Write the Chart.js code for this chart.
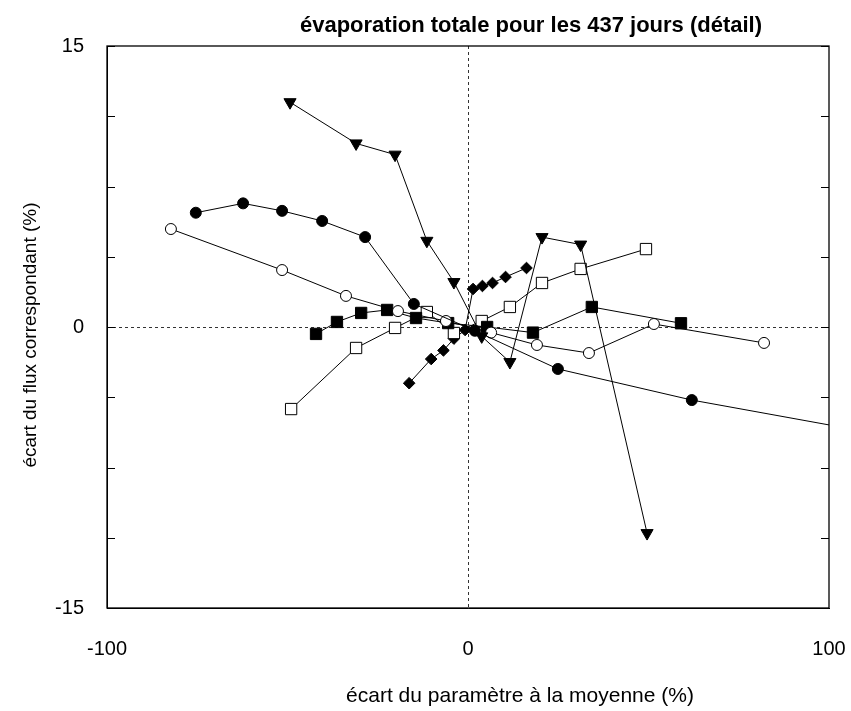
<!DOCTYPE html>
<html>
<head>
<meta charset="utf-8">
<script src="https://cdn.jsdelivr.net/npm/chart.js@4.4.1/dist/chart.umd.min.js"></script>
<style>
  html, body { margin: 0; padding: 0; background: #fff; }
  #wrap { width: 851px; height: 711px; }
</style>
</head>
<body>
<div id="wrap"><canvas id="chart" width="851" height="711"></canvas></div>
<script>
// down triangles
const triX = [-49.3, -31.0, -20.2, -11.4, -3.9, 3.8, 11.6, 20.5, 31.2, 49.6];
const triY = [12.0, 9.8, 9.2, 4.6, 2.4, -0.5, -1.87, 4.8, 4.4, -11.0];
// filled circles (last point lies beyond the x range)
const dotX = [-75.4, -62.3, -51.5, -40.4, -28.5, -15.0, 1.9, 24.9, 62.0, 125];
const dotY = [6.1, 6.6, 6.2, 5.66, 4.8, 1.23, -0.2, -2.24, -3.9, -6.1];
// open circles
const ringX = [-82.3, -51.5, -33.8, -19.4, -6.1, 6.4, 19.1, 33.5, 51.5, 82.0];
const ringY = [5.23, 3.04, 1.66, 0.85, 0.32, -0.3, -0.96, -1.39, 0.16, -0.85];
// filled squares
const sqX = [-42.1, -36.3, -29.6, -22.4, -14.4, -5.5, 5.3, 18.0, 34.3, 59.0];
const sqY = [-0.37, 0.27, 0.75, 0.91, 0.48, 0.21, 0.0, -0.3, 1.07, 0.2];
// open squares
const boxX = [-49.0, -31.0, -20.2, -11.4, -3.9, 3.8, 11.6, 20.5, 31.2, 49.3];
const boxY = [-4.38, -1.12, -0.05, 0.8, -0.32, 0.32, 1.07, 2.35, 3.1, 4.16];
// diamonds
const diaX = [-16.3, -10.2, -6.8, -3.9, -0.8, 1.4, 4.0, 6.8, 10.4, 16.2];
const diaY = [-3.0, -1.71, -1.25, -0.62, -0.16, 2.03, 2.19, 2.35, 2.67, 3.15];

const yTicks = [-15, -11.25, -7.5, -3.75, 0, 3.75, 7.5, 11.25, 15];

const FONT = "'Liberation Sans', Arial, sans-serif";

const pts = (xs, ys) => xs.map((x, i) => ({ x, y: ys[i] }));

const series = (data, style, fill, radius, rotation) => ({
    data,
    showLine: true,
    borderColor: '#000',
    borderWidth: 1,
    pointStyle: style,
    pointRadius: radius,
    pointRotation: rotation || 0,
    pointBackgroundColor: fill,
    pointBorderColor: '#000',
    pointBorderWidth: 1,
});

// the titles in the original sit right of the plot centre
const shiftScaleTitle = (scale, dx, dy) => {
    if (scale._shifted) return;
    scale._shifted = true;
    const draw = scale.drawTitle;
    scale.drawTitle = function () {
        const { left, right, top, bottom } = this;
        this.left += dx; this.right += dx;
        this.top += dy; this.bottom += dy;
        draw.call(this);
        Object.assign(this, { left, right, top, bottom });
    };
};

const titlePlugin = {
    id: 'titleShift',
    afterLayout(chart) {
        const t = chart.titleBlock;
        if (t) {
            const dx = 531 - (t.left + t.right) / 2;
            t.left += dx;
            t.right += dx;
        }
        shiftScaleTitle(chart.scales.x, 52, 0);
        shiftScaleTitle(chart.scales.y, 0, 8);
    }
};

// frame, inward ticks and dotted zero lines
const framePlugin = {
    id: 'frame',
    beforeDatasetsDraw(chart) {
        const { ctx, chartArea: a, scales } = chart;
        const x0 = scales.x.getPixelForValue(0);
        const y0 = scales.y.getPixelForValue(0);
        ctx.save();
        ctx.strokeStyle = '#333';
        ctx.lineWidth = 1;
        ctx.setLineDash([3, 3]);
        ctx.beginPath();
        ctx.moveTo(Math.round(x0) + 0.5, a.top);
        ctx.lineTo(Math.round(x0) + 0.5, a.bottom);
        ctx.moveTo(a.left, Math.round(y0) + 0.5);
        ctx.lineTo(a.right, Math.round(y0) + 0.5);
        ctx.stroke();
        ctx.restore();
    },
    afterDraw(chart) {
        const { ctx, chartArea: a, scales } = chart;
        ctx.save();
        ctx.strokeStyle = '#000';
        ctx.lineWidth = 1;
        ctx.beginPath();
        yTicks.forEach(v => {
            const py = Math.round(scales.y.getPixelForValue(v)) + 0.5;
            ctx.moveTo(a.left, py);
            ctx.lineTo(a.left + 8, py);
            ctx.moveTo(a.right - 8, py);
            ctx.lineTo(a.right, py);
        });
        ctx.stroke();
        ctx.lineWidth = 1.3;
        ctx.strokeRect(a.left, a.top, a.right - a.left, a.bottom - a.top);
        ctx.restore();
    }
};

const ctx = document.getElementById('chart').getContext('2d');
new Chart(ctx, {
    type: 'scatter',
    plugins: [titlePlugin, framePlugin],
    data: {
        datasets: [
            series(pts(triX, triY), 'triangle', '#000', 7, 180),
            series(pts(dotX, dotY), 'circle', '#000', 5.5),
            series(pts(ringX, ringY), 'circle', '#fff', 5.5),
            series(pts(sqX, sqY), 'rect', '#000', 8),
            series(pts(boxX, boxY), 'rect', '#fff', 8),
            series(pts(diaX, diaY), 'rectRot', '#000', 5.8),
        ]
    },
    options: {
        responsive: false,
        animation: false,
        devicePixelRatio: 1,
        layout: { padding: { left: 0, right: 22, top: 0, bottom: 0 } },
        plugins: {
            legend: { display: false },
            tooltip: { enabled: false },
            title: {
                display: true,
                text: 'évaporation totale pour les 437 jours (détail)',
                color: '#000',
                font: { family: FONT, size: 22, weight: 'bold', lineHeight: 1.2 },
                padding: { top: 13, bottom: 6.6 },
            }
        },
        scales: {
            x: {
                type: 'linear',
                min: -100,
                max: 100,
                grid: { display: false },
                border: { display: true, color: '#000', width: 1 },
                ticks: {
                    stepSize: 100,
                    color: '#000',
                    padding: 21,
                    maxRotation: 0,
                    font: { family: FONT, size: 20 },
                },
                title: {
                    display: true,
                    text: 'écart du paramètre à la moyenne (%)',
                    color: '#000',
                    font: { family: FONT, size: 21 },
                    padding: { top: 0, bottom: 2 },
                },
                afterFit: s => {
                    s.height = 103;
                    s.paddingLeft = 0;
                    s.paddingRight = 0;
                },
            },
            y: {
                type: 'linear',
                min: -15,
                max: 15,
                grid: { display: false },
                border: { display: true, color: '#000', width: 1 },
                ticks: {
                    stepSize: 3.75,
                    color: '#000',
                    padding: 15,
                    font: { family: FONT, size: 20 },
                    callback: v => (v % 15 === 0 ? String(v) : ''),
                },
                title: {
                    display: true,
                    text: 'écart du flux correspondant (%)',
                    color: '#000',
                    font: { family: FONT, size: 19 },
                    padding: { top: 19, bottom: 0 },
                },
                afterFit: s => { s.width = 107; },
            }
        }
    }
});
</script>
</body>
</html>
